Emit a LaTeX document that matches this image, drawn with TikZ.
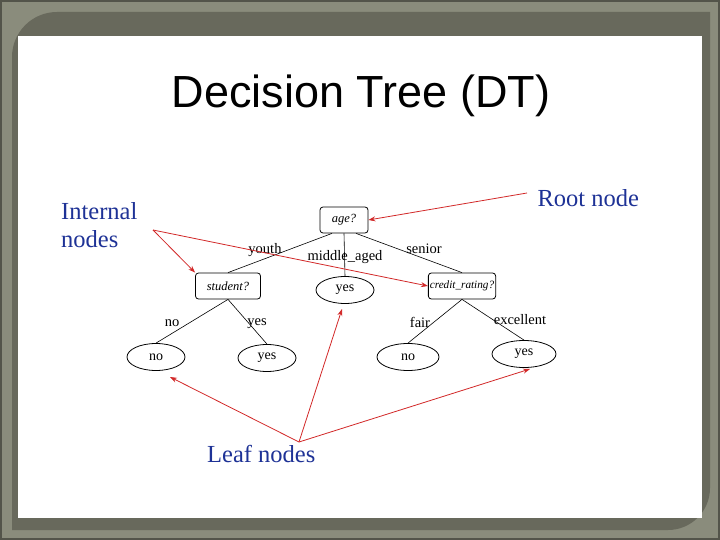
\documentclass[tikz,border=0pt]{standalone}
\usepackage{fontspec}
\setmainfont{Liberation Serif}
\newfontfamily\titlefont{Liberation Sans}
\usetikzlibrary{shapes.geometric,arrows.meta}
\definecolor{outerbg}{RGB}{138,140,124}
\definecolor{panel}{RGB}{104,105,92}
\definecolor{lblue}{RGB}{30,50,150}
\definecolor{ared}{RGB}{210,40,40}
\tikzset{
  inode/.style={draw, rounded corners=3pt, line width=0.8pt, minimum height=26pt, inner xsep=5pt, font=\fontsize{12.5}{14}\selectfont\itshape},
  lnode/.style={draw, ellipse, line width=0.8pt, minimum width=58pt, minimum height=27pt, inner sep=0pt, font=\fontsize{14}{16}\selectfont},
  edge/.style={draw, line width=0.6pt},
  elabel/.style={font=\fontsize{14.5}{16}\selectfont, inner sep=1pt},
  callout/.style={font=\fontsize{24.5}{28}\selectfont, text=lblue, align=left},
  pointer/.style={draw=ared, line width=0.8pt, -{Stealth[length=7pt,width=5pt]}}
}
\begin{document}
\begin{tikzpicture}[x=1pt,y=-1pt]
\useasboundingbox (0,0) rectangle (720,540);
\fill[outerbg] (0,0) rectangle (720,540);
\draw[panel!80!black, line width=1.5pt] (1,1) rectangle (719,539);
\fill[panel] (12,57) arc[start angle=180, end angle=270, radius=45] -- (710,12) -- (710,488) arc[start angle=0, end angle=90, radius=42] -- (12,530) -- cycle;
\fill[white] (18,36) rectangle (702,518);
\node[font=\titlefont\fontsize{45}{50}\selectfont] (title) at (361,96) {Decision Tree (DT)};

% tree nodes
\node[inode, minimum width=48pt] (age) at (344,220) {age?};
\node[inode, minimum width=65pt] (student) at (228,286) {student?};
\node[inode, minimum width=66pt, inner xsep=1.5pt, font=\fontsize{11.2}{13}\selectfont\itshape] (credit) at (462,286) {credit\_rating?};
\node[lnode] (yesm) at (345,290) {yes};
\node[lnode] (nol) at (156,357) {no};
\node[lnode] (yesl) at (267,358) {yes};
\node[lnode, minimum width=62pt] (nor) at (408,357) {no};
\node[lnode, minimum width=64pt] (yesr) at (524,354) {yes};

% tree edges
\draw[edge] (age.south) ++(-12,0) coordinate (a1) -- (student.north) coordinate (s1);
\draw[edge] (age.south) ++(12,0) coordinate (a2) -- (credit.north);
\draw[edge] (age.south) -- (yesm.north);
\draw[edge] (student.south) -- (nol.north);
\draw[edge] (student.south) -- (yesl.north);
\draw[edge] (credit.south) -- (nor.north);
\draw[edge] (credit.south) -- (yesr.north);

\node[elabel] (lyouth) at (265,250) {youth};
\node[elabel] (lmid) at (345,257) {middle\_aged};
\node[elabel] (lsen) at (424,249) {senior};
\node[elabel] (lno) at (172,323) {no};
\node[elabel] (lyes) at (257,324) {yes};
\node[elabel] (lfair) at (420,322) {fair};
\node[elabel] (lexc) at (520,320) {excellent};

% callouts
\node[callout, anchor=west] (root) at (534,198) {Root node};
\node[callout, anchor=north west, inner sep=0pt] (internal) at (61,202) {Internal\\nodes};
\node[callout, anchor=north west, inner sep=0pt] (leaf) at (207,445) {Leaf nodes};

\coordinate (rootp) at (527,193);
\coordinate (intp) at (153,230);
\coordinate (leafp) at (299,442);

\draw[pointer] (rootp) -- (age.east);
\draw[pointer] (intp) -- (student.north west);
\draw[pointer] (intp) -- (credit.west);
\draw[pointer] (leafp) -- (170,377) coordinate (t1);
\draw[pointer] (leafp) -- (342,309) coordinate (t2);
\draw[pointer] (leafp) -- (530,369) coordinate (t3);
\end{tikzpicture}
\end{document}
